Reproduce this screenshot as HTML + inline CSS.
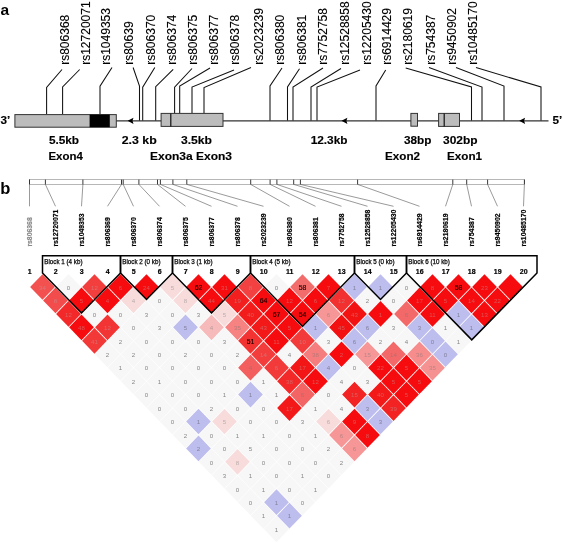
<!DOCTYPE html>
<html lang="en"><head><meta charset="utf-8"><title>Figure</title>
<style>html,body{margin:0;padding:0;background:#fff}svg{display:block}text{font-family:"Liberation Sans",Arial,Helvetica,sans-serif}</style></head><body>
<svg width="563" height="543" viewBox="0 0 563 543">
<rect width="563" height="543" fill="#fff"/>
<g id="panel-a">
<text x="0.5" y="15" font-size="15.5" font-weight="bold">a</text>
<g font-size="12" fill="#000" stroke="#000" stroke-width="0.12">
<text transform="translate(68.9,64.8) rotate(-90)">rs806368</text>
<text transform="translate(89.5,64.8) rotate(-90)">rs12720071</text>
<text transform="translate(110.3,64.8) rotate(-90)">rs1049353</text>
<text transform="translate(133,64.8) rotate(-90)">rs80639</text>
<text transform="translate(155.3,64.8) rotate(-90)">rs806370</text>
<text transform="translate(175.8,64.8) rotate(-90)">rs806374</text>
<text transform="translate(196.9,64.8) rotate(-90)">rs806375</text>
<text transform="translate(218,64.8) rotate(-90)">rs806377</text>
<text transform="translate(238.7,64.8) rotate(-90)">rs806378</text>
<text transform="translate(263,64.8) rotate(-90)">rs2023239</text>
<text transform="translate(284,64.8) rotate(-90)">rs806380</text>
<text transform="translate(306.3,64.8) rotate(-90)">rs806381</text>
<text transform="translate(327.2,64.8) rotate(-90)">rs7752758</text>
<text transform="translate(349.3,64.8) rotate(-90)">rs12528858</text>
<text transform="translate(370.6,64.8) rotate(-90)">rs12205430</text>
<text transform="translate(391.1,64.8) rotate(-90)">rs6914429</text>
<text transform="translate(412.4,64.8) rotate(-90)">rs2180619</text>
<text transform="translate(435.4,64.8) rotate(-90)">rs754387</text>
<text transform="translate(456.2,64.8) rotate(-90)">rs9450902</text>
<text transform="translate(477.2,64.8) rotate(-90)">rs10485170</text>
</g>
<g fill="none" stroke="#111" stroke-width="1.05">
<polyline points="62,69.5 46.6,87.5 46.6,114"/>
<polyline points="79.7,69.5 62.6,87 62.6,114"/>
<polyline points="112,67.5 100,86.2 100,114"/>
<polyline points="133.1,67.5 139.5,86.2 139.5,120.8"/>
<polyline points="154.8,67.5 142.7,87.1 142.7,120.8"/>
<polyline points="173.2,69.3 155.7,86.7 155.7,120.8"/>
<polyline points="192,68.5 174.6,87.2 174.6,113.5"/>
<polyline points="210,68 179.7,86 179.7,113.5"/>
<polyline points="234,70 192,87 192,113.5"/>
<polyline points="251,67.5 204,87.5 204,113.5"/>
<polyline points="282,68 270,86 270,120.8"/>
<polyline points="299.5,68.7 287.5,87 287.5,120.8"/>
<polyline points="323,68 293,87 293,120.8"/>
<polyline points="341,68.5 311,87 311,120.8"/>
<polyline points="360,70 317,87 317,120.8"/>
<polyline points="385.7,70 376,86 376,120.8"/>
<polyline points="405.7,68 471.5,87 471.5,120.8"/>
<polyline points="429,67.5 482,87 482,120.8"/>
<polyline points="456,67.5 504,86 504,120.8"/>
<polyline points="476,67.5 541,87 541,120.8"/>
</g>
<line x1="116" y1="120.8" x2="548.5" y2="120.8" stroke="#333" stroke-width="1.15"/>
<rect x="14.9" y="114.6" width="101.39999999999999" height="12.600000000000009" fill="#bcbcbc" stroke="#333" stroke-width="1"/>
<rect x="89.6" y="114.6" width="20.2" height="12.6" fill="#000"/>
<rect x="161.1" y="113.4" width="61.900000000000006" height="13.0" fill="#bcbcbc" stroke="#333" stroke-width="1"/>
<line x1="170.8" y1="113.4" x2="170.8" y2="126.4" stroke="#111" stroke-width="1.2"/>
<rect x="410.9" y="113.4" width="6.600000000000023" height="12.799999999999997" fill="#bcbcbc" stroke="#333" stroke-width="1"/>
<rect x="438.6" y="113.4" width="20.899999999999977" height="13.0" fill="#bcbcbc" stroke="#333" stroke-width="1"/>
<line x1="444.2" y1="113.4" x2="444.2" y2="126.4" stroke="#111" stroke-width="1.2"/>
<path d="M127.6,120.8 L133.5,117.7 L132.5,120.8 L133.5,123.89999999999999 Z" fill="#000"/>
<path d="M341.5,120.8 L347.4,117.7 L346.4,120.8 L347.4,123.89999999999999 Z" fill="#000"/>
<path d="M519.2,120.8 L525.1,117.7 L524.1,120.8 L525.1,123.89999999999999 Z" fill="#000"/>
<g font-size="11.7" font-weight="bold" fill="#000" stroke="#000" stroke-width="0.15">
<text x="0.4" y="123.9">3’</text>
<text x="552.6" y="123.9">5’</text>
<text x="48.9" y="144.0" textLength="30.2" lengthAdjust="spacingAndGlyphs">5.5kb</text>
<text x="48.4" y="159.9" textLength="34.4" lengthAdjust="spacingAndGlyphs">Exon4</text>
<text x="121.7" y="144.0" textLength="35" lengthAdjust="spacingAndGlyphs">2.3 kb</text>
<text x="181" y="144.0" textLength="31" lengthAdjust="spacingAndGlyphs">3.5kb</text>
<text x="150" y="159.9" textLength="82" lengthAdjust="spacingAndGlyphs">Exon3a Exon3</text>
<text x="310.7" y="144.0" textLength="36.8" lengthAdjust="spacingAndGlyphs">12.3kb</text>
<text x="404" y="144.0" textLength="27.5" lengthAdjust="spacingAndGlyphs">38bp</text>
<text x="385" y="159.9" textLength="35" lengthAdjust="spacingAndGlyphs">Exon2</text>
<text x="443" y="144.0" textLength="34.5" lengthAdjust="spacingAndGlyphs">302bp</text>
<text x="447" y="159.9" textLength="35" lengthAdjust="spacingAndGlyphs">Exon1</text>
</g>
</g>
<g id="panel-b">
<text x="0.3" y="194" font-size="16.5" font-weight="bold">b</text>
<rect x="29.5" y="179.5" width="494.9" height="4.9" fill="#fff" stroke="#888" stroke-width="0.6"/>
<g stroke="#555" stroke-width="0.6" fill="none">
<line x1="29.5" y1="184.4" x2="29.5" y2="206.3"/>
<line x1="45.4" y1="184.4" x2="55.5" y2="206.3"/>
<line x1="82.9" y1="184.4" x2="81.5" y2="206.3"/>
<line x1="121.5" y1="184.4" x2="107.5" y2="206.3"/>
<line x1="123.2" y1="184.4" x2="133.5" y2="206.3"/>
<line x1="138.9" y1="184.4" x2="159.5" y2="206.3"/>
<line x1="157.5" y1="184.4" x2="185.5" y2="206.3"/>
<line x1="160.4" y1="184.4" x2="211.5" y2="206.3"/>
<line x1="172.9" y1="184.4" x2="237.5" y2="206.3"/>
<line x1="186.8" y1="184.4" x2="263.5" y2="206.3"/>
<line x1="250.7" y1="184.4" x2="289.5" y2="206.3"/>
<line x1="270.1" y1="184.4" x2="315.5" y2="206.3"/>
<line x1="276.9" y1="184.4" x2="341.5" y2="206.3"/>
<line x1="293.7" y1="184.4" x2="367.5" y2="206.3"/>
<line x1="300.4" y1="184.4" x2="393.5" y2="206.3"/>
<line x1="357.6" y1="184.4" x2="419.5" y2="206.3"/>
<line x1="452.8" y1="184.4" x2="445.5" y2="206.3"/>
<line x1="466.7" y1="184.4" x2="471.5" y2="206.3"/>
<line x1="487.6" y1="184.4" x2="497.5" y2="206.3"/>
<line x1="524.4" y1="184.4" x2="523.5" y2="206.3"/>
</g>
<g stroke="#222" stroke-width="0.9" fill="none">
<line x1="29.5" y1="179.6" x2="29.5" y2="184.4"/>
<line x1="45.4" y1="179.6" x2="45.4" y2="184.4"/>
<line x1="82.9" y1="179.6" x2="82.9" y2="184.4"/>
<line x1="121.5" y1="179.6" x2="121.5" y2="184.4"/>
<line x1="123.2" y1="179.6" x2="123.2" y2="184.4"/>
<line x1="138.9" y1="179.6" x2="138.9" y2="184.4"/>
<line x1="157.5" y1="179.6" x2="157.5" y2="184.4"/>
<line x1="160.4" y1="179.6" x2="160.4" y2="184.4"/>
<line x1="172.9" y1="179.6" x2="172.9" y2="184.4"/>
<line x1="186.8" y1="179.6" x2="186.8" y2="184.4"/>
<line x1="250.7" y1="179.6" x2="250.7" y2="184.4"/>
<line x1="270.1" y1="179.6" x2="270.1" y2="184.4"/>
<line x1="276.9" y1="179.6" x2="276.9" y2="184.4"/>
<line x1="293.7" y1="179.6" x2="293.7" y2="184.4"/>
<line x1="300.4" y1="179.6" x2="300.4" y2="184.4"/>
<line x1="357.6" y1="179.6" x2="357.6" y2="184.4"/>
<line x1="452.8" y1="179.6" x2="452.8" y2="184.4"/>
<line x1="466.7" y1="179.6" x2="466.7" y2="184.4"/>
<line x1="487.6" y1="179.6" x2="487.6" y2="184.4"/>
<line x1="524.4" y1="179.6" x2="524.4" y2="184.4"/>
</g>
<g font-size="6.85" font-weight="bold" fill="#000" stroke="#000" stroke-width="0.2">
<text transform="translate(31.8,246.6) rotate(-90)" fill="#8a8a8a" stroke="#8a8a8a">rs806368</text>
<text transform="translate(57.8,246.6) rotate(-90)">rs12720071</text>
<text transform="translate(83.8,246.6) rotate(-90)">rs1049353</text>
<text transform="translate(109.8,246.6) rotate(-90)">rs806369</text>
<text transform="translate(135.8,246.6) rotate(-90)">rs806370</text>
<text transform="translate(161.8,246.6) rotate(-90)">rs806374</text>
<text transform="translate(187.8,246.6) rotate(-90)">rs806375</text>
<text transform="translate(213.8,246.6) rotate(-90)">rs806377</text>
<text transform="translate(239.8,246.6) rotate(-90)">rs806378</text>
<text transform="translate(265.8,246.6) rotate(-90)">rs2023239</text>
<text transform="translate(291.8,246.6) rotate(-90)">rs806380</text>
<text transform="translate(317.8,246.6) rotate(-90)">rs806381</text>
<text transform="translate(343.8,246.6) rotate(-90)">rs7752758</text>
<text transform="translate(369.8,246.6) rotate(-90)">rs12528858</text>
<text transform="translate(395.8,246.6) rotate(-90)">rs12205430</text>
<text transform="translate(421.8,246.6) rotate(-90)">rs6914429</text>
<text transform="translate(447.8,246.6) rotate(-90)">rs2180619</text>
<text transform="translate(473.8,246.6) rotate(-90)">rs754387</text>
<text transform="translate(499.8,246.6) rotate(-90)">rs9450902</text>
<text transform="translate(525.8,246.6) rotate(-90)">rs10485170</text>
</g>
<g font-size="7" font-weight="bold" fill="#000" stroke="#000" stroke-width="0.2" text-anchor="middle">
<text x="29.7" y="273.7">1</text>
<text x="55.7" y="273.7">2</text>
<text x="81.7" y="273.7">3</text>
<text x="107.7" y="273.7">4</text>
<text x="133.7" y="273.7">5</text>
<text x="159.7" y="273.7">6</text>
<text x="185.7" y="273.7">7</text>
<text x="211.7" y="273.7">8</text>
<text x="237.7" y="273.7">9</text>
<text x="263.7" y="273.7">10</text>
<text x="289.7" y="273.7">11</text>
<text x="315.7" y="273.7">12</text>
<text x="341.7" y="273.7">13</text>
<text x="367.7" y="273.7">14</text>
<text x="393.7" y="273.7">15</text>
<text x="419.7" y="273.7">16</text>
<text x="445.7" y="273.7">17</text>
<text x="471.7" y="273.7">18</text>
<text x="497.7" y="273.7">19</text>
<text x="523.7" y="273.7">20</text>
</g>
<g id="ld">
<path d="M42.50,274.17L54.90,287.00L42.50,299.83L30.10,287.00Z" fill="#f35050"/>
<path d="M55.50,287.62L67.90,300.45L55.50,313.28L43.10,300.45Z" fill="#f34c4c"/>
<path d="M68.50,301.07L80.90,313.90L68.50,326.73L56.10,313.90Z" fill="#f32828"/>
<path d="M81.50,314.52L93.90,327.35L81.50,340.18L69.10,327.35Z" fill="#f60c0f"/>
<path d="M94.50,327.97L106.90,340.80L94.50,353.63L82.10,340.80Z" fill="#f33838"/>
<path d="M107.50,341.16L120.15,354.25L107.50,367.34L94.85,354.25Z" fill="#f7f7f7"/>
<path d="M120.50,354.61L133.15,367.70L120.50,380.79L107.85,367.70Z" fill="#f7f7f7"/>
<path d="M133.50,368.06L146.15,381.15L133.50,394.24L120.85,381.15Z" fill="#f7f7f7"/>
<path d="M146.50,381.51L159.15,394.60L146.50,407.69L133.85,394.60Z" fill="#f7f7f7"/>
<path d="M159.50,394.96L172.15,408.05L159.50,421.14L146.85,408.05Z" fill="#f7f7f7"/>
<path d="M172.50,408.41L185.15,421.50L172.50,434.59L159.85,421.50Z" fill="#f7f7f7"/>
<path d="M185.50,421.86L198.15,434.95L185.50,448.04L172.85,434.95Z" fill="#f7f7f7"/>
<path d="M198.50,435.57L210.90,448.40L198.50,461.23L186.10,448.40Z" fill="#bdbdee"/>
<path d="M211.50,448.76L224.15,461.85L211.50,474.94L198.85,461.85Z" fill="#f7f7f7"/>
<path d="M224.50,462.21L237.15,475.30L224.50,488.39L211.85,475.30Z" fill="#f7f7f7"/>
<path d="M237.50,475.66L250.15,488.75L237.50,501.84L224.85,488.75Z" fill="#f7f7f7"/>
<path d="M250.50,489.11L263.15,502.20L250.50,515.29L237.85,502.20Z" fill="#f7f7f7"/>
<path d="M263.50,502.56L276.15,515.65L263.50,528.74L250.85,515.65Z" fill="#f7f7f7"/>
<path d="M276.50,516.01L289.15,529.10L276.50,542.19L263.85,529.10Z" fill="#f7f7f7"/>
<path d="M68.50,273.91L81.15,287.00L68.50,300.09L55.85,287.00Z" fill="#f7f7f7"/>
<path d="M81.50,287.62L93.90,300.45L81.50,313.28L69.10,300.45Z" fill="#f60c0f"/>
<path d="M94.50,300.81L107.15,313.90L94.50,326.99L81.85,313.90Z" fill="#f7f7f7"/>
<path d="M107.50,314.52L119.90,327.35L107.50,340.18L95.10,327.35Z" fill="#f33434"/>
<path d="M120.50,327.71L133.15,340.80L120.50,353.89L107.85,340.80Z" fill="#f7f7f7"/>
<path d="M133.50,341.16L146.15,354.25L133.50,367.34L120.85,354.25Z" fill="#f7f7f7"/>
<path d="M146.50,354.61L159.15,367.70L146.50,380.79L133.85,367.70Z" fill="#f7f7f7"/>
<path d="M159.50,368.06L172.15,381.15L159.50,394.24L146.85,381.15Z" fill="#f7f7f7"/>
<path d="M172.50,381.51L185.15,394.60L172.50,407.69L159.85,394.60Z" fill="#f7f7f7"/>
<path d="M185.50,394.96L198.15,408.05L185.50,421.14L172.85,408.05Z" fill="#f7f7f7"/>
<path d="M198.50,408.67L210.90,421.50L198.50,434.33L186.10,421.50Z" fill="#bdbdee"/>
<path d="M211.50,421.86L224.15,434.95L211.50,448.04L198.85,434.95Z" fill="#f7f7f7"/>
<path d="M224.50,435.31L237.15,448.40L224.50,461.49L211.85,448.40Z" fill="#f7f7f7"/>
<path d="M237.50,449.02L249.90,461.85L237.50,474.68L225.10,461.85Z" fill="#f8dcdc"/>
<path d="M250.50,462.21L263.15,475.30L250.50,488.39L237.85,475.30Z" fill="#f7f7f7"/>
<path d="M263.50,475.66L276.15,488.75L263.50,501.84L250.85,488.75Z" fill="#f7f7f7"/>
<path d="M276.50,489.37L288.90,502.20L276.50,515.03L264.10,502.20Z" fill="#bdbdee"/>
<path d="M289.50,502.82L301.90,515.65L289.50,528.48L277.10,515.65Z" fill="#bdbdee"/>
<path d="M94.50,274.17L106.90,287.00L94.50,299.83L82.10,287.00Z" fill="#f33e3e"/>
<path d="M107.50,287.62L119.90,300.45L107.50,313.28L95.10,300.45Z" fill="#f60c0f"/>
<path d="M120.50,300.81L133.15,313.90L120.50,326.99L107.85,313.90Z" fill="#f7f7f7"/>
<path d="M133.50,314.26L146.15,327.35L133.50,340.44L120.85,327.35Z" fill="#f7f7f7"/>
<path d="M146.50,327.71L159.15,340.80L146.50,353.89L133.85,340.80Z" fill="#f7f7f7"/>
<path d="M159.50,341.16L172.15,354.25L159.50,367.34L146.85,354.25Z" fill="#f7f7f7"/>
<path d="M172.50,354.61L185.15,367.70L172.50,380.79L159.85,367.70Z" fill="#f7f7f7"/>
<path d="M185.50,368.06L198.15,381.15L185.50,394.24L172.85,381.15Z" fill="#f7f7f7"/>
<path d="M198.50,381.51L211.15,394.60L198.50,407.69L185.85,394.60Z" fill="#f7f7f7"/>
<path d="M211.50,394.96L224.15,408.05L211.50,421.14L198.85,408.05Z" fill="#f7f7f7"/>
<path d="M224.50,408.67L236.90,421.50L224.50,434.33L212.10,421.50Z" fill="#f8dcdc"/>
<path d="M237.50,421.86L250.15,434.95L237.50,448.04L224.85,434.95Z" fill="#f7f7f7"/>
<path d="M250.50,435.31L263.15,448.40L250.50,461.49L237.85,448.40Z" fill="#f7f7f7"/>
<path d="M263.50,448.76L276.15,461.85L263.50,474.94L250.85,461.85Z" fill="#f7f7f7"/>
<path d="M276.50,462.21L289.15,475.30L276.50,488.39L263.85,475.30Z" fill="#f7f7f7"/>
<path d="M289.50,475.66L302.15,488.75L289.50,501.84L276.85,488.75Z" fill="#f7f7f7"/>
<path d="M302.50,489.11L315.15,502.20L302.50,515.29L289.85,502.20Z" fill="#f7f7f7"/>
<path d="M120.50,274.17L132.90,287.00L120.50,299.83L108.10,287.00Z" fill="#f60c0f"/>
<path d="M133.50,287.62L145.90,300.45L133.50,313.28L121.10,300.45Z" fill="#f8dcdc"/>
<path d="M146.50,300.81L159.15,313.90L146.50,326.99L133.85,313.90Z" fill="#f7f7f7"/>
<path d="M159.50,314.26L172.15,327.35L159.50,340.44L146.85,327.35Z" fill="#f7f7f7"/>
<path d="M172.50,327.71L185.15,340.80L172.50,353.89L159.85,340.80Z" fill="#f7f7f7"/>
<path d="M185.50,341.16L198.15,354.25L185.50,367.34L172.85,354.25Z" fill="#f7f7f7"/>
<path d="M198.50,354.61L211.15,367.70L198.50,380.79L185.85,367.70Z" fill="#f7f7f7"/>
<path d="M211.50,368.06L224.15,381.15L211.50,394.24L198.85,381.15Z" fill="#f7f7f7"/>
<path d="M224.50,381.51L237.15,394.60L224.50,407.69L211.85,394.60Z" fill="#f7f7f7"/>
<path d="M237.50,394.96L250.15,408.05L237.50,421.14L224.85,408.05Z" fill="#f7f7f7"/>
<path d="M250.50,408.41L263.15,421.50L250.50,434.59L237.85,421.50Z" fill="#f7f7f7"/>
<path d="M263.50,421.86L276.15,434.95L263.50,448.04L250.85,434.95Z" fill="#f7f7f7"/>
<path d="M276.50,435.31L289.15,448.40L276.50,461.49L263.85,448.40Z" fill="#f7f7f7"/>
<path d="M289.50,448.76L302.15,461.85L289.50,474.94L276.85,461.85Z" fill="#f7f7f7"/>
<path d="M302.50,462.21L315.15,475.30L302.50,488.39L289.85,475.30Z" fill="#f7f7f7"/>
<path d="M315.50,475.66L328.15,488.75L315.50,501.84L302.85,488.75Z" fill="#f7f7f7"/>
<path d="M146.50,274.17L158.90,287.00L146.50,299.83L134.10,287.00Z" fill="#f60c0f"/>
<path d="M159.50,287.36L172.15,300.45L159.50,313.54L146.85,300.45Z" fill="#f7f7f7"/>
<path d="M172.50,300.81L185.15,313.90L172.50,326.99L159.85,313.90Z" fill="#f7f7f7"/>
<path d="M185.50,314.52L197.90,327.35L185.50,340.18L173.10,327.35Z" fill="#bdbdee"/>
<path d="M198.50,327.71L211.15,340.80L198.50,353.89L185.85,340.80Z" fill="#f7f7f7"/>
<path d="M211.50,341.16L224.15,354.25L211.50,367.34L198.85,354.25Z" fill="#f7f7f7"/>
<path d="M224.50,354.61L237.15,367.70L224.50,380.79L211.85,367.70Z" fill="#f7f7f7"/>
<path d="M237.50,368.06L250.15,381.15L237.50,394.24L224.85,381.15Z" fill="#f7f7f7"/>
<path d="M250.50,381.77L262.90,394.60L250.50,407.43L238.10,394.60Z" fill="#bdbdee"/>
<path d="M263.50,394.96L276.15,408.05L263.50,421.14L250.85,408.05Z" fill="#f7f7f7"/>
<path d="M276.50,408.41L289.15,421.50L276.50,434.59L263.85,421.50Z" fill="#f7f7f7"/>
<path d="M289.50,421.86L302.15,434.95L289.50,448.04L276.85,434.95Z" fill="#f7f7f7"/>
<path d="M302.50,435.31L315.15,448.40L302.50,461.49L289.85,448.40Z" fill="#f7f7f7"/>
<path d="M315.50,448.76L328.15,461.85L315.50,474.94L302.85,461.85Z" fill="#f7f7f7"/>
<path d="M328.50,462.21L341.15,475.30L328.50,488.39L315.85,475.30Z" fill="#f7f7f7"/>
<path d="M172.50,274.17L184.90,287.00L172.50,299.83L160.10,287.00Z" fill="#f8dcdc"/>
<path d="M185.50,287.62L197.90,300.45L185.50,313.28L173.10,300.45Z" fill="#f8dcdc"/>
<path d="M198.50,300.81L211.15,313.90L198.50,326.99L185.85,313.90Z" fill="#f7f7f7"/>
<path d="M211.50,314.52L223.90,327.35L211.50,340.18L199.10,327.35Z" fill="#f6baba"/>
<path d="M224.50,327.71L237.15,340.80L224.50,353.89L211.85,340.80Z" fill="#f7f7f7"/>
<path d="M237.50,341.16L250.15,354.25L237.50,367.34L224.85,354.25Z" fill="#f7f7f7"/>
<path d="M250.50,354.87L262.90,367.70L250.50,380.53L238.10,367.70Z" fill="#f35f5f"/>
<path d="M263.50,368.06L276.15,381.15L263.50,394.24L250.85,381.15Z" fill="#f7f7f7"/>
<path d="M276.50,381.51L289.15,394.60L276.50,407.69L263.85,394.60Z" fill="#f7f7f7"/>
<path d="M289.50,395.22L301.90,408.05L289.50,420.88L277.10,408.05Z" fill="#f31919"/>
<path d="M302.50,408.41L315.15,421.50L302.50,434.59L289.85,421.50Z" fill="#f7f7f7"/>
<path d="M315.50,421.86L328.15,434.95L315.50,448.04L302.85,434.95Z" fill="#f7f7f7"/>
<path d="M328.50,435.31L341.15,448.40L328.50,461.49L315.85,448.40Z" fill="#f7f7f7"/>
<path d="M341.50,448.76L354.15,461.85L341.50,474.94L328.85,461.85Z" fill="#f7f7f7"/>
<path d="M198.50,274.17L210.90,287.00L198.50,299.83L186.10,287.00Z" fill="#f60c0f"/>
<path d="M211.50,287.62L223.90,300.45L211.50,313.28L199.10,300.45Z" fill="#f60c0f"/>
<path d="M224.50,301.07L236.90,313.90L224.50,326.73L212.10,313.90Z" fill="#f8dcdc"/>
<path d="M237.50,314.52L249.90,327.35L237.50,340.18L225.10,327.35Z" fill="#f68282"/>
<path d="M250.50,327.97L262.90,340.80L250.50,353.63L238.10,340.80Z" fill="#f33232"/>
<path d="M263.50,341.42L275.90,354.25L263.50,367.08L251.10,354.25Z" fill="#f33c3c"/>
<path d="M276.50,354.87L288.90,367.70L276.50,380.53L264.10,367.70Z" fill="#f33a3a"/>
<path d="M289.50,368.32L301.90,381.15L289.50,393.98L277.10,381.15Z" fill="#f32828"/>
<path d="M302.50,381.77L314.90,394.60L302.50,407.43L290.10,394.60Z" fill="#f36464"/>
<path d="M315.50,394.96L328.15,408.05L315.50,421.14L302.85,408.05Z" fill="#f7f7f7"/>
<path d="M328.50,408.67L340.90,421.50L328.50,434.33L316.10,421.50Z" fill="#f8dcdc"/>
<path d="M341.50,422.12L353.90,434.95L341.50,447.78L329.10,434.95Z" fill="#f69696"/>
<path d="M354.50,435.57L366.90,448.40L354.50,461.23L342.10,448.40Z" fill="#f69696"/>
<path d="M224.50,274.17L236.90,287.00L224.50,299.83L212.10,287.00Z" fill="#f60c0f"/>
<path d="M237.50,287.62L249.90,300.45L237.50,313.28L225.10,300.45Z" fill="#f31e1e"/>
<path d="M250.50,301.07L262.90,313.90L250.50,326.73L238.10,313.90Z" fill="#f31c1c"/>
<path d="M263.50,314.52L275.90,327.35L263.50,340.18L251.10,327.35Z" fill="#f31919"/>
<path d="M276.50,327.97L288.90,340.80L276.50,353.63L264.10,340.80Z" fill="#f60c0f"/>
<path d="M289.50,341.16L302.15,354.25L289.50,367.34L276.85,354.25Z" fill="#f7f7f7"/>
<path d="M302.50,354.87L314.90,367.70L302.50,380.53L290.10,367.70Z" fill="#f31616"/>
<path d="M315.50,368.32L327.90,381.15L315.50,393.98L303.10,381.15Z" fill="#f60c0f"/>
<path d="M328.50,381.51L341.15,394.60L328.50,407.69L315.85,394.60Z" fill="#f7f7f7"/>
<path d="M341.50,394.96L354.15,408.05L341.50,421.14L328.85,408.05Z" fill="#f7f7f7"/>
<path d="M354.50,408.67L366.90,421.50L354.50,434.33L342.10,421.50Z" fill="#f60c0f"/>
<path d="M367.50,422.12L379.90,434.95L367.50,447.78L355.10,434.95Z" fill="#f60c0f"/>
<path d="M250.50,274.17L262.90,287.00L250.50,299.83L238.10,287.00Z" fill="#f34040"/>
<path d="M263.50,287.62L275.90,300.45L263.50,313.28L251.10,300.45Z" fill="#f60c0f"/>
<path d="M276.50,301.07L288.90,313.90L276.50,326.73L264.10,313.90Z" fill="#f60c0f"/>
<path d="M289.50,314.52L301.90,327.35L289.50,340.18L277.10,327.35Z" fill="#f60c0f"/>
<path d="M302.50,327.97L314.90,340.80L302.50,353.63L290.10,340.80Z" fill="#f33a3a"/>
<path d="M315.50,341.42L327.90,354.25L315.50,367.08L303.10,354.25Z" fill="#f67d7d"/>
<path d="M328.50,354.87L340.90,367.70L328.50,380.53L316.10,367.70Z" fill="#bdbdee"/>
<path d="M341.50,368.06L354.15,381.15L341.50,394.24L328.85,381.15Z" fill="#f7f7f7"/>
<path d="M354.50,381.77L366.90,394.60L354.50,407.43L342.10,394.60Z" fill="#f32323"/>
<path d="M367.50,395.22L379.90,408.05L367.50,420.88L355.10,408.05Z" fill="#bdbdee"/>
<path d="M380.50,408.67L392.90,421.50L380.50,434.33L368.10,421.50Z" fill="#bdbdee"/>
<path d="M276.50,273.91L289.15,287.00L276.50,300.09L263.85,287.00Z" fill="#f7f7f7"/>
<path d="M289.50,287.62L301.90,300.45L289.50,313.28L277.10,300.45Z" fill="#f60c0f"/>
<path d="M302.50,301.07L314.90,313.90L302.50,326.73L290.10,313.90Z" fill="#f60c0f"/>
<path d="M315.50,314.52L327.90,327.35L315.50,340.18L303.10,327.35Z" fill="#bdbdee"/>
<path d="M328.50,327.71L341.15,340.80L328.50,353.89L315.85,340.80Z" fill="#f7f7f7"/>
<path d="M341.50,341.42L353.90,354.25L341.50,367.08L329.10,354.25Z" fill="#f60c0f"/>
<path d="M354.50,354.61L367.15,367.70L354.50,380.79L341.85,367.70Z" fill="#f7f7f7"/>
<path d="M367.50,368.06L380.15,381.15L367.50,394.24L354.85,381.15Z" fill="#f7f7f7"/>
<path d="M380.50,381.77L392.90,394.60L380.50,407.43L368.10,394.60Z" fill="#f31919"/>
<path d="M393.50,395.22L405.90,408.05L393.50,420.88L381.10,408.05Z" fill="#f32323"/>
<path d="M302.50,274.17L314.90,287.00L302.50,299.83L290.10,287.00Z" fill="#f36c6c"/>
<path d="M315.50,287.62L327.90,300.45L315.50,313.28L303.10,300.45Z" fill="#f60c0f"/>
<path d="M328.50,301.07L340.90,313.90L328.50,326.73L316.10,313.90Z" fill="#f69696"/>
<path d="M341.50,314.52L353.90,327.35L341.50,340.18L329.10,327.35Z" fill="#f31010"/>
<path d="M354.50,327.97L366.90,340.80L354.50,353.63L342.10,340.80Z" fill="#bdbdee"/>
<path d="M367.50,341.42L379.90,354.25L367.50,367.08L355.10,354.25Z" fill="#f69696"/>
<path d="M380.50,354.87L392.90,367.70L380.50,380.53L368.10,367.70Z" fill="#f60c0f"/>
<path d="M393.50,368.32L405.90,381.15L393.50,393.98L381.10,381.15Z" fill="#f60c0f"/>
<path d="M406.50,381.77L418.90,394.60L406.50,407.43L394.10,394.60Z" fill="#f60c0f"/>
<path d="M328.50,274.17L340.90,287.00L328.50,299.83L316.10,287.00Z" fill="#f60c0f"/>
<path d="M341.50,287.62L353.90,300.45L341.50,313.28L329.10,300.45Z" fill="#f33030"/>
<path d="M354.50,301.07L366.90,313.90L354.50,326.73L342.10,313.90Z" fill="#f31212"/>
<path d="M367.50,314.52L379.90,327.35L367.50,340.18L355.10,327.35Z" fill="#bdbdee"/>
<path d="M380.50,327.71L393.15,340.80L380.50,353.89L367.85,340.80Z" fill="#f7f7f7"/>
<path d="M393.50,341.42L405.90,354.25L393.50,367.08L381.10,354.25Z" fill="#f36969"/>
<path d="M406.50,354.87L418.90,367.70L406.50,380.53L394.10,367.70Z" fill="#f60c0f"/>
<path d="M419.50,368.32L431.90,381.15L419.50,393.98L407.10,381.15Z" fill="#f60c0f"/>
<path d="M354.50,274.17L366.90,287.00L354.50,299.83L342.10,287.00Z" fill="#bdbdee"/>
<path d="M367.50,287.36L380.15,300.45L367.50,313.54L354.85,300.45Z" fill="#f7f7f7"/>
<path d="M380.50,301.07L392.90,313.90L380.50,326.73L368.10,313.90Z" fill="#f60c0f"/>
<path d="M393.50,314.26L406.15,327.35L393.50,340.44L380.85,327.35Z" fill="#f7f7f7"/>
<path d="M406.50,327.71L419.15,340.80L406.50,353.89L393.85,340.80Z" fill="#f7f7f7"/>
<path d="M419.50,341.42L431.90,354.25L419.50,367.08L407.10,354.25Z" fill="#f68c8c"/>
<path d="M432.50,354.87L444.90,367.70L432.50,380.53L420.10,367.70Z" fill="#f69191"/>
<path d="M380.50,274.17L392.90,287.00L380.50,299.83L368.10,287.00Z" fill="#bdbdee"/>
<path d="M393.50,287.36L406.15,300.45L393.50,313.54L380.85,300.45Z" fill="#f7f7f7"/>
<path d="M406.50,301.07L418.90,313.90L406.50,326.73L394.10,313.90Z" fill="#f36969"/>
<path d="M419.50,314.52L431.90,327.35L419.50,340.18L407.10,327.35Z" fill="#bdbdee"/>
<path d="M432.50,327.97L444.90,340.80L432.50,353.63L420.10,340.80Z" fill="#bdbdee"/>
<path d="M445.50,341.42L457.90,354.25L445.50,367.08L433.10,354.25Z" fill="#bdbdee"/>
<path d="M406.50,273.91L419.15,287.00L406.50,300.09L393.85,287.00Z" fill="#f7f7f7"/>
<path d="M419.50,287.62L431.90,300.45L419.50,313.28L407.10,300.45Z" fill="#f60c0f"/>
<path d="M432.50,301.07L444.90,313.90L432.50,326.73L420.10,313.90Z" fill="#f60c0f"/>
<path d="M445.50,314.26L458.15,327.35L445.50,340.44L432.85,327.35Z" fill="#f7f7f7"/>
<path d="M458.50,327.71L471.15,340.80L458.50,353.89L445.85,340.80Z" fill="#f7f7f7"/>
<path d="M432.50,274.17L444.90,287.00L432.50,299.83L420.10,287.00Z" fill="#f60c0f"/>
<path d="M445.50,287.62L457.90,300.45L445.50,313.28L433.10,300.45Z" fill="#f60c0f"/>
<path d="M458.50,301.07L470.90,313.90L458.50,326.73L446.10,313.90Z" fill="#bdbdee"/>
<path d="M471.50,314.52L483.90,327.35L471.50,340.18L459.10,327.35Z" fill="#bdbdee"/>
<path d="M458.50,274.17L470.90,287.00L458.50,299.83L446.10,287.00Z" fill="#f60c0f"/>
<path d="M471.50,287.62L483.90,300.45L471.50,313.28L459.10,300.45Z" fill="#f60c0f"/>
<path d="M484.50,301.07L496.90,313.90L484.50,326.73L472.10,313.90Z" fill="#f60c0f"/>
<path d="M484.50,274.17L496.90,287.00L484.50,299.83L472.10,287.00Z" fill="#f60c0f"/>
<path d="M497.50,287.62L509.90,300.45L497.50,313.28L485.10,300.45Z" fill="#f60c0f"/>
<path d="M510.50,274.17L522.90,287.00L510.50,299.83L498.10,287.00Z" fill="#f60c0f"/>
</g>
<g font-size="6.1" text-anchor="middle" fill="#868686">
<text x="42.50" y="289.75" fill="#d87878">34</text>
<text x="55.50" y="303.20" fill="#d87676">8</text>
<text x="68.50" y="316.65" fill="#d86464">12</text>
<text x="81.50" y="330.10" fill="#da5657">48</text>
<text x="94.50" y="343.55" fill="#d86c6c">41</text>
<text x="107.50" y="357.00">2</text>
<text x="120.50" y="370.45">1</text>
<text x="133.50" y="383.90">2</text>
<text x="146.50" y="397.35">0</text>
<text x="159.50" y="410.80">0</text>
<text x="172.50" y="424.25">0</text>
<text x="185.50" y="437.70">2</text>
<text x="198.50" y="451.15" fill="#82829e">2</text>
<text x="211.50" y="464.60">0</text>
<text x="224.50" y="478.05">3</text>
<text x="237.50" y="491.50">0</text>
<text x="250.50" y="504.95">0</text>
<text x="263.50" y="518.40">1</text>
<text x="276.50" y="531.85">1</text>
<text x="68.50" y="289.75">0</text>
<text x="81.50" y="303.20" fill="#da5657">5</text>
<text x="94.50" y="316.65">0</text>
<text x="107.50" y="330.10" fill="#d86a6a">12</text>
<text x="120.50" y="343.55">2</text>
<text x="133.50" y="357.00">2</text>
<text x="146.50" y="370.45">0</text>
<text x="159.50" y="383.90">1</text>
<text x="172.50" y="397.35">0</text>
<text x="185.50" y="410.80">0</text>
<text x="198.50" y="424.25" fill="#82829e">1</text>
<text x="211.50" y="437.70">0</text>
<text x="224.50" y="451.15">0</text>
<text x="237.50" y="464.60" fill="#bcacac">8</text>
<text x="250.50" y="478.05">1</text>
<text x="263.50" y="491.50">1</text>
<text x="276.50" y="504.95" fill="#82829e">1</text>
<text x="289.50" y="518.40" fill="#82829e">1</text>
<text x="94.50" y="289.75" fill="#d86f6f">12</text>
<text x="107.50" y="303.20" fill="#da5657">4</text>
<text x="120.50" y="316.65">0</text>
<text x="133.50" y="330.10">0</text>
<text x="146.50" y="343.55">0</text>
<text x="159.50" y="357.00">0</text>
<text x="172.50" y="370.45">0</text>
<text x="185.50" y="383.90">0</text>
<text x="198.50" y="397.35">0</text>
<text x="211.50" y="410.80">2</text>
<text x="224.50" y="424.25" fill="#bcacac">5</text>
<text x="237.50" y="437.70">1</text>
<text x="250.50" y="451.15">5</text>
<text x="263.50" y="464.60">0</text>
<text x="276.50" y="478.05">0</text>
<text x="289.50" y="491.50">0</text>
<text x="302.50" y="504.95">0</text>
<text x="120.50" y="289.75" fill="#da5657">6</text>
<text x="133.50" y="303.20" fill="#bcacac">4</text>
<text x="146.50" y="316.65">3</text>
<text x="159.50" y="330.10">3</text>
<text x="172.50" y="343.55">0</text>
<text x="185.50" y="357.00">2</text>
<text x="198.50" y="370.45">0</text>
<text x="211.50" y="383.90">0</text>
<text x="224.50" y="397.35">1</text>
<text x="237.50" y="410.80">0</text>
<text x="250.50" y="424.25">0</text>
<text x="263.50" y="437.70">1</text>
<text x="276.50" y="451.15">0</text>
<text x="289.50" y="464.60">0</text>
<text x="302.50" y="478.05">1</text>
<text x="315.50" y="491.50">1</text>
<text x="146.50" y="289.75" fill="#da5657">24</text>
<text x="159.50" y="303.20">0</text>
<text x="172.50" y="316.65">0</text>
<text x="185.50" y="330.10" fill="#82829e">5</text>
<text x="198.50" y="343.55">0</text>
<text x="211.50" y="357.00">0</text>
<text x="224.50" y="370.45">0</text>
<text x="237.50" y="383.90">0</text>
<text x="250.50" y="397.35" fill="#82829e">1</text>
<text x="263.50" y="410.80">0</text>
<text x="276.50" y="424.25">0</text>
<text x="289.50" y="437.70">0</text>
<text x="302.50" y="451.15">0</text>
<text x="315.50" y="464.60">0</text>
<text x="328.50" y="478.05">0</text>
<text x="172.50" y="289.75" fill="#bcacac">5</text>
<text x="185.50" y="303.20" fill="#bcacac">8</text>
<text x="198.50" y="316.65">3</text>
<text x="211.50" y="330.10" fill="#bb9a9a">4</text>
<text x="224.50" y="343.55">3</text>
<text x="237.50" y="357.00">2</text>
<text x="250.50" y="370.45" fill="#b96868">4</text>
<text x="263.50" y="383.90">1</text>
<text x="276.50" y="397.35">1</text>
<text x="289.50" y="410.80" fill="#d85c5c">17</text>
<text x="302.50" y="424.25">3</text>
<text x="315.50" y="437.70">1</text>
<text x="328.50" y="451.15">2</text>
<text x="341.50" y="464.60">2</text>
<text x="198.50" y="289.75" fill="#140000" font-size="6.9" stroke="#140000" stroke-width="0.12">62</text>
<text x="211.50" y="303.20" fill="#da5657">44</text>
<text x="224.50" y="316.65" fill="#bcacac">5</text>
<text x="237.50" y="330.10" fill="#bb7b7b">35</text>
<text x="250.50" y="343.55" fill="#140000" font-size="6.9" stroke="#140000" stroke-width="0.12">51</text>
<text x="263.50" y="357.00" fill="#d86e6e">14</text>
<text x="276.50" y="370.45" fill="#d86d6d">6</text>
<text x="289.50" y="383.90" fill="#d86464">38</text>
<text x="302.50" y="397.35" fill="#b96a6a">6</text>
<text x="315.50" y="410.80">1</text>
<text x="328.50" y="424.25" fill="#bcacac">6</text>
<text x="341.50" y="437.70" fill="#bb8686">6</text>
<text x="354.50" y="451.15" fill="#bb8686">6</text>
<text x="224.50" y="289.75" fill="#da5657">31</text>
<text x="237.50" y="303.20" fill="#d85f5f">19</text>
<text x="250.50" y="316.65" fill="#d85e5e">40</text>
<text x="263.50" y="330.10" fill="#d85c5c">43</text>
<text x="276.50" y="343.55" fill="#da5657">11</text>
<text x="289.50" y="357.00">4</text>
<text x="302.50" y="370.45" fill="#d85b5b">17</text>
<text x="315.50" y="383.90" fill="#da5657">12</text>
<text x="328.50" y="397.35">0</text>
<text x="341.50" y="410.80">4</text>
<text x="354.50" y="424.25" fill="#da5657">9</text>
<text x="367.50" y="437.70" fill="#da5657">8</text>
<text x="250.50" y="289.75" fill="#d87070">8</text>
<text x="263.50" y="303.20" fill="#140000" font-size="6.9" stroke="#140000" stroke-width="0.12">64</text>
<text x="276.50" y="316.65" fill="#140000" font-size="6.9" stroke="#140000" stroke-width="0.12">67</text>
<text x="289.50" y="330.10" fill="#da5657">5</text>
<text x="302.50" y="343.55" fill="#d86d6d">10</text>
<text x="315.50" y="357.00" fill="#bb7878">38</text>
<text x="328.50" y="370.45" fill="#82829e">4</text>
<text x="341.50" y="383.90">4</text>
<text x="354.50" y="397.35" fill="#d86161">15</text>
<text x="367.50" y="410.80" fill="#82829e">3</text>
<text x="380.50" y="424.25" fill="#82829e">3</text>
<text x="276.50" y="289.75">0</text>
<text x="289.50" y="303.20" fill="#da5657">12</text>
<text x="302.50" y="316.65" fill="#140000" font-size="6.9" stroke="#140000" stroke-width="0.12">54</text>
<text x="315.50" y="330.10" fill="#82829e">1</text>
<text x="328.50" y="343.55">3</text>
<text x="341.50" y="357.00" fill="#da5657">2</text>
<text x="354.50" y="370.45">0</text>
<text x="367.50" y="383.90">3</text>
<text x="380.50" y="397.35" fill="#d85c5c">40</text>
<text x="393.50" y="410.80" fill="#d86161">39</text>
<text x="302.50" y="289.75" fill="#140000" font-size="6.9" stroke="#140000" stroke-width="0.12">58</text>
<text x="315.50" y="303.20" fill="#da5657">6</text>
<text x="328.50" y="316.65" fill="#bb8686">6</text>
<text x="341.50" y="330.10" fill="#d85858">45</text>
<text x="354.50" y="343.55" fill="#82829e">6</text>
<text x="367.50" y="357.00" fill="#bb8686">15</text>
<text x="380.50" y="370.45" fill="#da5657">22</text>
<text x="393.50" y="383.90" fill="#da5657">5</text>
<text x="406.50" y="397.35" fill="#da5657">5</text>
<text x="328.50" y="289.75" fill="#da5657">7</text>
<text x="341.50" y="303.20" fill="#d86868">12</text>
<text x="354.50" y="316.65" fill="#d85959">43</text>
<text x="367.50" y="330.10" fill="#82829e">6</text>
<text x="380.50" y="343.55">2</text>
<text x="393.50" y="357.00" fill="#b96d6d">14</text>
<text x="406.50" y="370.45" fill="#da5657">5</text>
<text x="419.50" y="383.90" fill="#da5657">5</text>
<text x="354.50" y="289.75" fill="#82829e">1</text>
<text x="367.50" y="303.20">2</text>
<text x="380.50" y="316.65" fill="#da5657">1</text>
<text x="393.50" y="330.10">3</text>
<text x="406.50" y="343.55">4</text>
<text x="419.50" y="357.00" fill="#bb8080">36</text>
<text x="432.50" y="370.45" fill="#bb8383">35</text>
<text x="380.50" y="289.75" fill="#82829e">1</text>
<text x="393.50" y="303.20">0</text>
<text x="406.50" y="316.65" fill="#b96d6d">6</text>
<text x="419.50" y="330.10" fill="#82829e">3</text>
<text x="432.50" y="343.55" fill="#82829e">0</text>
<text x="445.50" y="357.00" fill="#82829e">0</text>
<text x="406.50" y="289.75">0</text>
<text x="419.50" y="303.20" fill="#da5657">17</text>
<text x="432.50" y="316.65" fill="#da5657">11</text>
<text x="445.50" y="330.10">1</text>
<text x="458.50" y="343.55">1</text>
<text x="432.50" y="289.75" fill="#da5657">8</text>
<text x="445.50" y="303.20" fill="#da5657">5</text>
<text x="458.50" y="316.65" fill="#82829e">1</text>
<text x="471.50" y="330.10" fill="#82829e">1</text>
<text x="458.50" y="289.75" fill="#140000" font-size="6.9" stroke="#140000" stroke-width="0.12">58</text>
<text x="471.50" y="303.20" fill="#da5657">14</text>
<text x="484.50" y="316.65" fill="#da5657">13</text>
<text x="484.50" y="289.75" fill="#da5657">23</text>
<text x="497.50" y="303.20" fill="#da5657">22</text>
</g>
<g fill="none" stroke="#000" stroke-width="1.5" stroke-linejoin="miter">
<path d="M42.5,272.9 L42.5,255.8 L120.5,255.8 L120.5,272.9 L81.5,312.95 Z"/>
<path d="M120.5,272.9 L120.5,255.8 L172.5,255.8 L172.5,272.9 L146.5,299.50 Z"/>
<path d="M172.5,272.9 L172.5,255.8 L250.5,255.8 L250.5,272.9 L211.5,312.95 Z"/>
<path d="M250.5,272.9 L250.5,255.8 L354.5,255.8 L354.5,272.9 L302.5,326.40 Z"/>
<path d="M354.5,272.9 L354.5,255.8 L406.5,255.8 L406.5,272.9 L380.5,299.50 Z"/>
<path d="M406.5,272.9 L406.5,255.8 L537.0,255.8 L537.0,272.9 L471.75,339.85 Z"/>
</g>
<g font-size="6.9" fill="#000" stroke="#000" stroke-width="0.25">
<text x="44.3" y="264.3" textLength="38.2" lengthAdjust="spacingAndGlyphs">Block 1 (4 kb)</text>
<text x="122.3" y="264.3" textLength="38.2" lengthAdjust="spacingAndGlyphs">Block 2 (0 kb)</text>
<text x="174.3" y="264.3" textLength="38.2" lengthAdjust="spacingAndGlyphs">Block 3 (1 kb)</text>
<text x="252.3" y="264.3" textLength="38.2" lengthAdjust="spacingAndGlyphs">Block 4 (5 kb)</text>
<text x="356.3" y="264.3" textLength="38.2" lengthAdjust="spacingAndGlyphs">Block 5 (0 kb)</text>
<text x="408.3" y="264.3" textLength="41.5" lengthAdjust="spacingAndGlyphs">Block 6 (10 kb)</text>
</g>
</g>
</svg></body></html>
